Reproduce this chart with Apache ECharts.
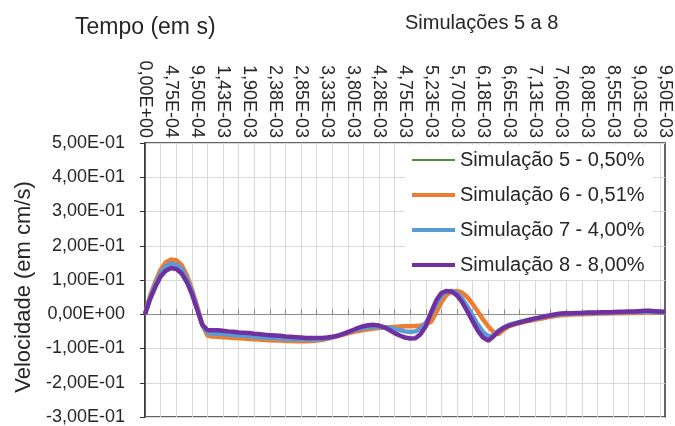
<!DOCTYPE html>
<html>
<head>
<meta charset="utf-8">
<script src="https://cdn.jsdelivr.net/npm/echarts@6/dist/echarts.min.js"></script>
<style>
html,body{margin:0;padding:0;background:#fff;}
#chart{width:675px;height:426px;}
</style>
</head>
<body>
<div id="chart"></div>
<script>
// Time steps (s)
const categories = [
0, 9.5e-5, 1.9e-4, 2.85e-4, 3.8e-4, 4.75e-4, 5.7e-4, 6.65e-4, 7.6e-4, 8.55e-4,
9.5e-4, 1.045e-3, 1.14e-3, 1.235e-3, 1.33e-3, 1.425e-3, 1.52e-3, 1.615e-3, 1.71e-3, 1.805e-3,
1.9e-3, 1.995e-3, 2.09e-3, 2.185e-3, 2.28e-3, 2.375e-3, 2.47e-3, 2.565e-3, 2.66e-3, 2.755e-3,
2.85e-3, 2.945e-3, 3.04e-3, 3.135e-3, 3.23e-3, 3.325e-3, 3.42e-3, 3.515e-3, 3.61e-3, 3.705e-3,
3.8e-3, 3.895e-3, 3.99e-3, 4.085e-3, 4.18e-3, 4.275e-3, 4.37e-3, 4.465e-3, 4.56e-3, 4.655e-3,
4.75e-3, 4.845e-3, 4.94e-3, 5.035e-3, 5.13e-3, 5.225e-3, 5.32e-3, 5.415e-3, 5.51e-3, 5.605e-3,
5.7e-3, 5.795e-3, 5.89e-3, 5.985e-3, 6.08e-3, 6.175e-3, 6.27e-3, 6.365e-3, 6.46e-3, 6.555e-3,
6.65e-3, 6.745e-3, 6.84e-3, 6.935e-3, 7.03e-3, 7.125e-3, 7.22e-3, 7.315e-3, 7.41e-3, 7.505e-3,
7.6e-3, 7.695e-3, 7.79e-3, 7.885e-3, 7.98e-3, 8.075e-3, 8.17e-3, 8.265e-3, 8.36e-3, 8.455e-3,
8.55e-3, 8.645e-3, 8.74e-3, 8.835e-3, 8.93e-3, 9.025e-3, 9.12e-3, 9.215e-3, 9.31e-3, 9.405e-3,
9.5e-3
];

const xTickLabels = [
'0,00E+00','4,75E-04','9,50E-04','1,43E-03','1,90E-03','2,38E-03','2,85E-03','3,33E-03','3,80E-03','4,28E-03',
'4,75E-03','5,23E-03','5,70E-03','6,18E-03','6,65E-03','7,13E-03','7,60E-03','8,08E-03','8,55E-03','9,03E-03','9,50E-03'
];

const sim5 = [
0, 0.054, 0.094, 0.129, 0.151, 0.159, 0.157, 0.144, 0.114, 0.074,
0.024, -0.03, -0.061, -0.064, -0.065, -0.066, -0.067, -0.068, -0.069, -0.07,
-0.071, -0.072, -0.073, -0.074, -0.075, -0.076, -0.076, -0.077, -0.077, -0.078,
-0.078, -0.078, -0.077, -0.076, -0.074, -0.071, -0.067, -0.063, -0.059, -0.055,
-0.051, -0.048, -0.045, -0.043, -0.041, -0.039, -0.038, -0.037, -0.036, -0.035,
-0.034, -0.034, -0.033, -0.032, -0.029, -0.021, 0.006, 0.036, 0.057, 0.066,
0.068, 0.063, 0.05, 0.03, 0.008, -0.015, -0.035, -0.052, -0.057, -0.044,
-0.034, -0.029, -0.025, -0.021, -0.018, -0.015, -0.012, -0.009, -0.006, -0.004,
-0.002, -0.001, 0, 0, 0.001, 0.001, 0.002, 0.002, 0.002, 0.003,
0.003, 0.003, 0.004, 0.004, 0.004, 0.005, 0.005, 0.005, 0.005, 0.005,
0.005
];

const sim6 = [
0, 0.055, 0.095, 0.13, 0.152, 0.16, 0.158, 0.145, 0.115, 0.075,
0.025, -0.03, -0.062, -0.065, -0.066, -0.067, -0.068, -0.069, -0.07, -0.071,
-0.072, -0.073, -0.074, -0.075, -0.076, -0.077, -0.077, -0.078, -0.078, -0.079,
-0.079, -0.079, -0.078, -0.077, -0.075, -0.072, -0.068, -0.064, -0.06, -0.056,
-0.052, -0.049, -0.046, -0.044, -0.042, -0.04, -0.039, -0.038, -0.037, -0.036,
-0.035, -0.035, -0.034, -0.033, -0.03, -0.022, 0.005, 0.035, 0.057, 0.066,
0.068, 0.063, 0.05, 0.03, 0.008, -0.015, -0.035, -0.052, -0.058, -0.045,
-0.035, -0.03, -0.026, -0.022, -0.019, -0.016, -0.013, -0.01, -0.007, -0.005,
-0.003, -0.002, -0.001, 0, 0, 0.001, 0.001, 0.002, 0.002, 0.002,
0.003, 0.003, 0.003, 0.004, 0.004, 0.004, 0.005, 0.005, 0.005, 0.005,
0.005
];

const sim7 = [
0, 0.05, 0.088, 0.12, 0.14, 0.148, 0.145, 0.133, 0.105, 0.068,
0.02, -0.03, -0.054, -0.056, -0.057, -0.058, -0.06, -0.061, -0.062, -0.063,
-0.064, -0.066, -0.067, -0.068, -0.069, -0.07, -0.071, -0.072, -0.073, -0.073,
-0.074, -0.074, -0.074, -0.073, -0.072, -0.07, -0.067, -0.063, -0.058, -0.053,
-0.048, -0.044, -0.04, -0.038, -0.037, -0.037, -0.038, -0.04, -0.043, -0.046,
-0.05, -0.052, -0.05, -0.042, -0.025, 0, 0.03, 0.055, 0.066, 0.068,
0.062, 0.045, 0.022, -0.004, -0.03, -0.052, -0.065, -0.062, -0.048, -0.038,
-0.031, -0.027, -0.023, -0.019, -0.016, -0.013, -0.01, -0.007, -0.004, -0.002,
0, 0.001, 0.002, 0.002, 0.003, 0.003, 0.004, 0.004, 0.004, 0.005,
0.005, 0.005, 0.006, 0.006, 0.006, 0.007, 0.007, 0.007, 0.007, 0.006,
0.006
];

const sim8 = [
0, 0.045, 0.08, 0.11, 0.127, 0.135, 0.132, 0.12, 0.095, 0.06,
0.015, -0.03, -0.046, -0.047, -0.047, -0.048, -0.05, -0.051, -0.053, -0.054,
-0.055, -0.057, -0.058, -0.06, -0.061, -0.062, -0.063, -0.065, -0.066, -0.067,
-0.068, -0.069, -0.069, -0.069, -0.069, -0.068, -0.066, -0.063, -0.058, -0.052,
-0.046, -0.04, -0.035, -0.032, -0.031, -0.033, -0.038, -0.046, -0.055, -0.062,
-0.068, -0.071, -0.07, -0.058, -0.035, 0.005, 0.04, 0.062, 0.068, 0.066,
0.055, 0.035, 0.008, -0.02, -0.048, -0.068, -0.077, -0.065, -0.05, -0.04,
-0.033, -0.028, -0.024, -0.02, -0.016, -0.012, -0.009, -0.006, -0.003, 0,
0.002, 0.003, 0.003, 0.004, 0.004, 0.005, 0.005, 0.005, 0.006, 0.006,
0.006, 0.007, 0.007, 0.008, 0.008, 0.009, 0.01, 0.01, 0.009, 0.008,
0.007
];

const seriesNames = ['Simulação 5 - 0,50%', 'Simulação 6 - 0,51%', 'Simulação 7 - 4,00%', 'Simulação 8 - 8,00%'];
const seriesColors = ['#4f8e3c', '#ed7d31', '#5b9bd5', '#7030a0'];
const seriesWidths = [2, 4.5, 4.5, 4.5];
const seriesData = [sim5, sim6, sim7, sim8];

const FONT = '"Liberation Sans", Arial, sans-serif';
const TXT = '#262626';

function sciComma(v) {
  const s = Number(v).toExponential(2);
  const parts = s.split('e');
  const sign = parts[1][0] === '-' ? '-' : '+';
  let d = parts[1].replace(/[+-]/, '');
  if (d.length < 2) d = '0' + d;
  return parts[0].replace('.', ',') + 'E' + sign + d;
}

const chart = echarts.init(document.getElementById('chart'), null, {renderer: 'canvas'});
chart.setOption({
  animation: false,
  backgroundColor: '#ffffff',
  textStyle: {fontFamily: FONT},
  grid: {
    left: 145, right: 10, top: 143, bottom: 9,
    show: true, borderColor: '#333333', borderWidth: 1.5, backgroundColor: 'transparent'
  },
  legend: {
    orient: 'vertical', left: 405, top: 145,
    padding: [5, 8, 5, 5],
    backgroundColor: '#ffffff',
    itemWidth: 43, itemHeight: 14, itemGap: 15,
    itemStyle: {opacity: 0},
    textStyle: {fontSize: 20, color: TXT, fontFamily: FONT, lineHeight: 20},
    data: seriesNames.map(function (n, k) {
      return {name: n, lineStyle: {color: seriesColors[k], width: seriesWidths[k] === 2 ? 2 : 4}};
    })
  },
  xAxis: [{
    type: 'category', data: categories, boundaryGap: false, position: 'top',
    axisLine: {show: false, onZero: false},
    axisTick: {show: false},
    axisLabel: {
      interval: 4, rotate: 90, margin: 5, fontSize: 18, color: TXT, fontFamily: FONT,
      formatter: function (v, i) { return xTickLabels[i / 5]; }
    },
    splitLine: {show: true, interval: 2, lineStyle: {color: '#d9d9d9', width: 1}}
  }, {
    type: 'category', data: categories, boundaryGap: false, position: 'bottom',
    axisLine: {show: true, onZero: true, lineStyle: {color: '#8c8c8c', width: 1}},
    axisTick: {show: true, interval: 2, inside: true, length: 5, lineStyle: {color: '#8c8c8c'}},
    axisLabel: {show: false},
    splitLine: {show: false}
  }],
  yAxis: {
    type: 'value', min: -0.3, max: 0.5, interval: 0.1,
    axisLine: {show: true, onZero: false, lineStyle: {color: '#333333', width: 1.5}},
    axisTick: {show: true, length: 5, lineStyle: {color: '#333333'}},
    axisLabel: {fontSize: 18, color: TXT, margin: 20, fontFamily: FONT, formatter: sciComma},
    splitLine: {show: true, lineStyle: {color: '#d9d9d9', width: 1}}
  },
  graphic: [
    {type: 'text', x: 75, y: 28, style: {text: 'Tempo (em s)', fill: TXT, fontSize: 23, fontFamily: FONT, align: 'left', verticalAlign: 'middle'}},
    {type: 'text', x: 405, y: 23, style: {text: 'Simulações 5 a 8', fill: TXT, fontSize: 20, fontFamily: FONT, align: 'left', verticalAlign: 'middle'}},
    {type: 'text', x: 24, y: 287, rotation: Math.PI / 2, style: {text: 'Velocidade (em cm/s)', fill: TXT, fontSize: 22, fontFamily: FONT, align: 'center', verticalAlign: 'middle'}}
  ],
  series: seriesNames.map(function (name, k) {
    return {
      name: name, type: 'line', xAxisIndex: 0, data: seriesData[k],
      symbol: 'none', smooth: false,
      lineStyle: {color: seriesColors[k], width: seriesWidths[k]},
      itemStyle: {color: seriesColors[k]},
      z: 2 + k
    };
  })
});
</script>
</body>
</html>
